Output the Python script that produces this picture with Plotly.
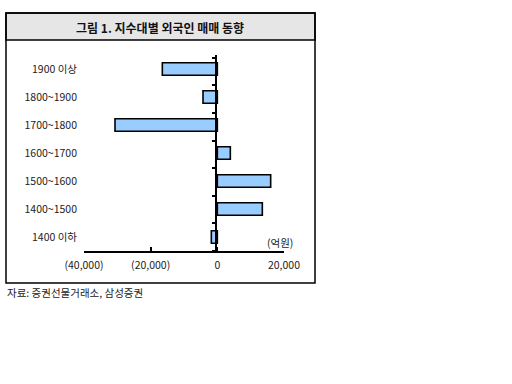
import plotly.graph_objects as go

categories = ["1900 이상", "1800~1900", "1700~1800", "1600~1700", "1500~1600", "1400~1500", "1400 이하"]
values = [-16500, -4300, -30700, 3900, 16000, 13500, -1800]
x_tickvals = [-40000, -20000, 0, 20000]
x_ticktext = ["(40,000)", "(20,000)", "0", "20,000"]
title_text = "그림 1. 지수대별 외국인 매매 동향"
unit_text = "(억원)"
source_text = "자료: 증권선물거래소, 삼성증권"

W, H = 512, 384
L, R, T, B = 84, 284, 55, 251
FONT = "Noto Sans CJK KR, Noto Sans, sans-serif"


def px(x):
    return (x - L) / (R - L)


def py(y):
    return (B - y) / (B - T)


fig = go.Figure()
fig.add_trace(go.Bar(
    x=values, y=categories, orientation="h",
    marker=dict(color="#99ccff", line=dict(color="black", width=1.6)),
    width=0.45, showlegend=False,
))

n = len(categories)
fig.update_layout(
    width=W, height=H, autosize=False,
    margin=dict(l=L, r=W - R, t=T, b=H - B, pad=0),
    paper_bgcolor="white", plot_bgcolor="white",
    font=dict(family=FONT, size=10, color="#222"),
    xaxis=dict(
        range=[-40000, 20000], tickvals=x_tickvals, ticktext=x_ticktext,
        showline=True, linecolor="black", linewidth=2,
        ticks="inside", ticklen=4, tickcolor="black", tickwidth=1.5,
        showgrid=False, zeroline=False, fixedrange=True, ticklabelstandoff=3,
        tickfont=dict(size=10.5, color="#222"),
    ),
    yaxis=dict(
        type="category", categoryorder="array", categoryarray=categories,
        range=[n - 0.5, -0.5], showline=False, showgrid=False, zeroline=False,
        ticks="", ticklabelstandoff=6, tickfont=dict(size=10.5, color="#222"),
    ),
    yaxis2=dict(
        overlaying="y", anchor="free", position=px(216),
        range=[n - 0.5, -0.5 - 0.1], showline=True, linecolor="black", linewidth=2,
        tickvals=[i - 0.5 for i in range(n + 1)], ticks="outside", ticklen=3,
        tickcolor="black", tickwidth=1.5, showticklabels=False,
        showgrid=False, zeroline=False,
    ),
)
fig.add_trace(go.Scatter(x=[0], y=[0], yaxis="y2", mode="markers",
                         marker=dict(opacity=0), showlegend=False, hoverinfo="skip"))

shapes = [
    dict(type="rect", xref="paper", yref="paper", x0=px(6), x1=px(315), y0=py(40), y1=py(13),
         line=dict(color="black", width=1.5), fillcolor="#e6e6e6", layer="below"),
    dict(type="rect", xref="paper", yref="paper", x0=px(6), x1=px(315), y0=py(283), y1=py(13),
         line=dict(color="black", width=1.5), fillcolor="rgba(0,0,0,0)", layer="above"),
]
fig.update_layout(shapes=shapes)
fig.add_annotation(text="<b>" + title_text + "</b>", xref="paper", yref="paper",
                   x=px(160), y=py(27), showarrow=False, xanchor="center", yanchor="middle",
                   font=dict(size=12, color="#111", family=FONT))
fig.add_annotation(text=unit_text, xref="paper", yref="paper",
                   x=px(280), y=py(242), showarrow=False, xanchor="center", yanchor="middle",
                   font=dict(size=10.5, color="#222", family=FONT))
fig.add_annotation(text=source_text, xref="paper", yref="paper",
                   x=px(5), y=py(292), showarrow=False, xanchor="left", yanchor="middle",
                   font=dict(size=10.5, color="#222", family=FONT))

fig.write_html("out.html", config={"displayModeBar": False},
               post_script="document.body.style.margin='0';")
